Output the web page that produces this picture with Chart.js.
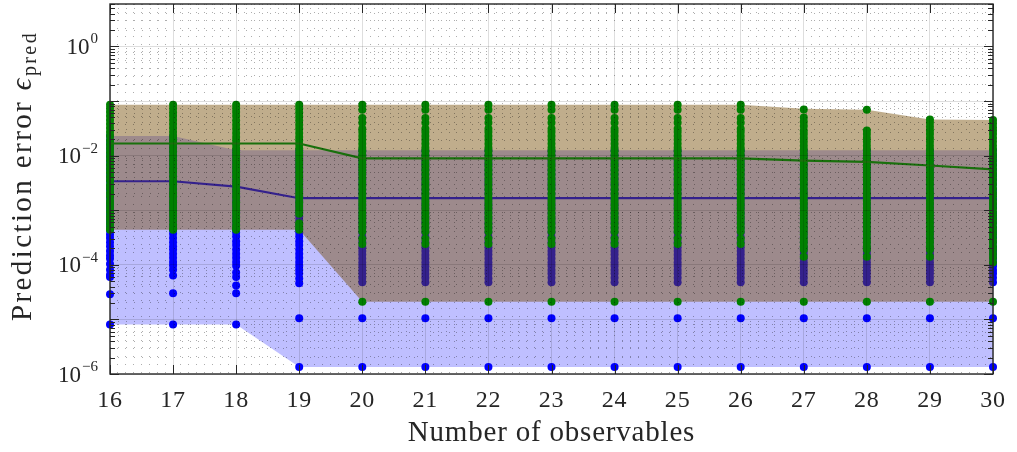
<!DOCTYPE html>
<html>
<head>
<meta charset="utf-8">
<script src="https://cdn.jsdelivr.net/npm/chart.js@4.4.1/dist/chart.umd.min.js"></script>
<style>
  html, body { margin: 0; padding: 0; background: #fff; }
</style>
</head>
<body>
<canvas id="errChart" width="1017" height="452"></canvas>
<script>
// number of observables
const nObs = [16, 17, 18, 19, 20, 21, 22, 23, 24, 25, 26, 27, 28, 29, 30];

// blue series: min / max envelope and median
const blueLow  = [8.1e-6, 8.1e-6, 8.1e-6, 1.35e-6, 1.35e-6, 1.35e-6, 1.35e-6, 1.35e-6, 1.35e-6, 1.35e-6, 1.35e-6, 1.35e-6, 1.35e-6, 1.35e-6, 1.35e-6];
const blueHigh = [0.023, 0.023, 0.0125, 0.0125, 0.0125, 0.0125, 0.0125, 0.0125, 0.0125, 0.0125, 0.0125, 0.0125, 0.0125, 0.0125, 0.0125];
const blueMed  = [0.0034, 0.0034, 0.0027, 0.00166, 0.00166, 0.00166, 0.00166, 0.00166, 0.00166, 0.00166, 0.00166, 0.00166, 0.00166, 0.00166, 0.00166];

// green series: min / max envelope and median
const greenLow  = [4.4e-4, 4.4e-4, 4.4e-4, 4.4e-4, 2.1e-5, 2.1e-5, 2.1e-5, 2.1e-5, 2.1e-5, 2.1e-5, 2.1e-5, 2.1e-5, 2.1e-5, 2.1e-5, 2.1e-5];
const greenHigh = [0.086, 0.086, 0.086, 0.086, 0.086, 0.086, 0.086, 0.086, 0.086, 0.086, 0.086, 0.072, 0.069, 0.046, 0.045];
const greenMed  = [0.0167, 0.0167, 0.0167, 0.0167, 0.0089, 0.0089, 0.0089, 0.0089, 0.0089, 0.0089, 0.0089, 0.0081, 0.0077, 0.0066, 0.0056];

// individual runs, one list per number of observables
const blueRuns = [
  [0.023, 0.019, 0.016, 0.0135, 0.0112, 0.0094, 0.0079, 0.0066, 0.0056, 0.0047, 0.004, 0.0034, 0.0028, 0.0024, 0.002, 0.0017, 0.0014, 0.0012, 0.001, 0.00085, 0.00072, 0.00061, 0.00051, 0.00043, 0.00036, 0.00031, 0.00026, 0.00022, 0.00018, 0.00015, 0.00013, 0.000104, 0.000081, 0.000066, 0.00006, 0.000029, 0.0000081],
  [0.023, 0.02, 0.017, 0.014, 0.0118, 0.0098, 0.0082, 0.0069, 0.0058, 0.0049, 0.0041, 0.0034, 0.0029, 0.0024, 0.002, 0.0017, 0.0014, 0.0012, 0.001, 0.00086, 0.00073, 0.00062, 0.00052, 0.00044, 0.00037, 0.00031, 0.00026, 0.00022, 0.00019, 0.00016, 0.000135, 0.000113, 0.000097, 0.000081, 0.000064, 0.00003, 0.0000081],
  [0.0125, 0.0105, 0.0088, 0.0074, 0.0062, 0.0052, 0.0044, 0.0037, 0.0031, 0.0026, 0.0022, 0.0018, 0.0015, 0.0013, 0.0011, 0.00092, 0.00077, 0.00065, 0.00055, 0.00046, 0.00039, 0.00033, 0.00027, 0.00023, 0.00019, 0.00016, 0.000135, 0.000113, 0.000096, 0.000072, 0.00006, 0.000042, 0.00003, 0.0000081],
  [0.0125, 0.0105, 0.0088, 0.0074, 0.0062, 0.0052, 0.0044, 0.0037, 0.0031, 0.0026, 0.0022, 0.0018, 0.0015, 0.0013, 0.0011, 0.00092, 0.00077, 0.00065, 0.00055, 0.00046, 0.00039, 0.00033, 0.00027, 0.00023, 0.00019, 0.00016, 0.000135, 0.000113, 0.000096, 0.000081, 0.000069, 0.000056, 0.000046, 0.0000105, 0.00000135],
  [0.0125, 0.0102, 0.0083, 0.0068, 0.0055, 0.0045, 0.0037, 0.003, 0.0024, 0.002, 0.0016, 0.0013, 0.0011, 0.00088, 0.00072, 0.00059, 0.00048, 0.00039, 0.00032, 0.00026, 0.00021, 0.00018, 0.000155, 0.00013, 0.00011, 0.000095, 0.00008, 0.000069, 0.000058, 0.000048, 0.0000105, 0.00000135],
  [0.0124, 0.0101, 0.0083, 0.0068, 0.0056, 0.0045, 0.0037, 0.003, 0.0024, 0.002, 0.0016, 0.0013, 0.0011, 0.00088, 0.00072, 0.00059, 0.00048, 0.00039, 0.00032, 0.00026, 0.00021, 0.00018, 0.000152, 0.00013, 0.00011, 0.000094, 0.00008, 0.000068, 0.000058, 0.000048, 0.0000105, 0.00000135],
  [0.0125, 0.0102, 0.0084, 0.0069, 0.0055, 0.0045, 0.0036, 0.003, 0.0024, 0.002, 0.0016, 0.0013, 0.0011, 0.00089, 0.00072, 0.00058, 0.00048, 0.00039, 0.00032, 0.00026, 0.00021, 0.00018, 0.000155, 0.00013, 0.00011, 0.000095, 0.00008, 0.000069, 0.000057, 0.000048, 0.0000105, 0.00000135],
  [0.0123, 0.0102, 0.0083, 0.0068, 0.0055, 0.0045, 0.0037, 0.003, 0.0025, 0.002, 0.0016, 0.0013, 0.0011, 0.00088, 0.00071, 0.00059, 0.00048, 0.00039, 0.00032, 0.00026, 0.00021, 0.00018, 0.000155, 0.00013, 0.00011, 0.000095, 0.00008, 0.000069, 0.000058, 0.000048, 0.0000105, 0.00000135],
  [0.0125, 0.0102, 0.0083, 0.0068, 0.0055, 0.0045, 0.0037, 0.003, 0.0024, 0.002, 0.0016, 0.0013, 0.0011, 0.00088, 0.00072, 0.00059, 0.00048, 0.00039, 0.00032, 0.00026, 0.00021, 0.00018, 0.000155, 0.00013, 0.00011, 0.000095, 0.00008, 0.000069, 0.000058, 0.000048, 0.0000105, 0.00000135],
  [0.0124, 0.0102, 0.0083, 0.0068, 0.0055, 0.0045, 0.0037, 0.003, 0.0024, 0.002, 0.0016, 0.0013, 0.0011, 0.00088, 0.00072, 0.00059, 0.00048, 0.00039, 0.00032, 0.00026, 0.00021, 0.00018, 0.000153, 0.00013, 0.00011, 0.000095, 0.00008, 0.000069, 0.000058, 0.000048, 0.0000105, 0.00000135],
  [0.0125, 0.0102, 0.0083, 0.0068, 0.0055, 0.0045, 0.0037, 0.003, 0.0024, 0.002, 0.0016, 0.0013, 0.0011, 0.00088, 0.00072, 0.00059, 0.00048, 0.00039, 0.00032, 0.00026, 0.00021, 0.00018, 0.000155, 0.00013, 0.00011, 0.000095, 0.00008, 0.000069, 0.000058, 0.000048, 0.0000105, 0.00000135],
  [0.0124, 0.0102, 0.0083, 0.0068, 0.0055, 0.0045, 0.0037, 0.003, 0.0024, 0.002, 0.0016, 0.0013, 0.0011, 0.00088, 0.00072, 0.00059, 0.00048, 0.00039, 0.00032, 0.00026, 0.00021, 0.00018, 0.000155, 0.00013, 0.00011, 0.000095, 0.00008, 0.000069, 0.000058, 0.000048, 0.0000105, 0.00000135],
  [0.0125, 0.0102, 0.0083, 0.0068, 0.0055, 0.0045, 0.0037, 0.003, 0.0024, 0.002, 0.0016, 0.0013, 0.0011, 0.00088, 0.00072, 0.00059, 0.00048, 0.00039, 0.00032, 0.00026, 0.00021, 0.00018, 0.000155, 0.00013, 0.00011, 0.000095, 0.00008, 0.000069, 0.000058, 0.000048, 0.0000105, 0.00000135],
  [0.0124, 0.0102, 0.0083, 0.0068, 0.0055, 0.0045, 0.0037, 0.003, 0.0024, 0.002, 0.0016, 0.0013, 0.0011, 0.00088, 0.00072, 0.00059, 0.00048, 0.00039, 0.00032, 0.00026, 0.00021, 0.00018, 0.000155, 0.00013, 0.00011, 0.000095, 0.00008, 0.000069, 0.000058, 0.000048, 0.0000105, 0.00000135],
  [0.0125, 0.0102, 0.0083, 0.0068, 0.0055, 0.0045, 0.0037, 0.003, 0.0024, 0.002, 0.0016, 0.0013, 0.0011, 0.00088, 0.00072, 0.00059, 0.00048, 0.00039, 0.00032, 0.00026, 0.00021, 0.00018, 0.000155, 0.00013, 0.00011, 0.000095, 0.00008, 0.000069, 0.000058, 0.000048, 0.0000105, 0.00000135]
];

const greenRuns = [
  [0.086, 0.074, 0.063, 0.053, 0.045, 0.038, 0.032, 0.027, 0.023, 0.019, 0.016, 0.0135, 0.0115, 0.0097, 0.0082, 0.0069, 0.0058, 0.0049, 0.0041, 0.0035, 0.0029, 0.0025, 0.0021, 0.0018, 0.0015, 0.0013, 0.0011, 0.00093, 0.00078, 0.00066, 0.00056, 0.00047, 0.00044],
  [0.086, 0.073, 0.062, 0.053, 0.045, 0.038, 0.032, 0.027, 0.023, 0.0195, 0.0165, 0.014, 0.0118, 0.0099, 0.0083, 0.007, 0.0059, 0.005, 0.0042, 0.0035, 0.003, 0.0025, 0.0021, 0.0018, 0.0015, 0.0013, 0.0011, 0.00093, 0.00079, 0.00066, 0.00055, 0.00047, 0.00044],
  [0.086, 0.074, 0.063, 0.053, 0.044, 0.037, 0.031, 0.026, 0.022, 0.019, 0.016, 0.0135, 0.0114, 0.0096, 0.0081, 0.0068, 0.0058, 0.0049, 0.0041, 0.0034, 0.0029, 0.0024, 0.002, 0.0017, 0.0014, 0.0012, 0.001, 0.00086, 0.00073, 0.00062, 0.00052, 0.00046, 0.00044],
  [0.086, 0.073, 0.062, 0.052, 0.044, 0.037, 0.031, 0.026, 0.022, 0.019, 0.016, 0.0135, 0.0114, 0.0096, 0.0081, 0.0068, 0.0058, 0.0049, 0.0041, 0.0034, 0.0029, 0.0024, 0.002, 0.0017, 0.0014, 0.0012, 0.001, 0.00086, 0.00058, 0.0005, 0.00044],
  [0.086, 0.069, 0.049, 0.04, 0.031, 0.027, 0.023, 0.0195, 0.0165, 0.014, 0.012, 0.0102, 0.0087, 0.0074, 0.0063, 0.0054, 0.0046, 0.0039, 0.0033, 0.0028, 0.0024, 0.002, 0.0017, 0.00145, 0.00123, 0.00105, 0.0009, 0.00077, 0.00066, 0.00056, 0.00048, 0.00041, 0.0003, 0.00024, 0.000021],
  [0.086, 0.069, 0.049, 0.04, 0.031, 0.027, 0.023, 0.0195, 0.0165, 0.014, 0.012, 0.0102, 0.0087, 0.0074, 0.0063, 0.0054, 0.0046, 0.0039, 0.0033, 0.0028, 0.0024, 0.002, 0.0017, 0.00145, 0.00123, 0.00105, 0.0009, 0.00077, 0.00066, 0.00056, 0.00048, 0.00041, 0.0003, 0.00024, 0.000021],
  [0.086, 0.069, 0.049, 0.04, 0.031, 0.027, 0.023, 0.0195, 0.0165, 0.014, 0.012, 0.0102, 0.0087, 0.0074, 0.0063, 0.0054, 0.0046, 0.0039, 0.0033, 0.0028, 0.0024, 0.002, 0.0017, 0.00145, 0.00123, 0.00105, 0.0009, 0.00077, 0.00066, 0.00056, 0.00048, 0.00041, 0.0003, 0.00024, 0.000021],
  [0.086, 0.069, 0.049, 0.04, 0.031, 0.027, 0.023, 0.0195, 0.0165, 0.014, 0.012, 0.0102, 0.0087, 0.0074, 0.0063, 0.0054, 0.0046, 0.0039, 0.0033, 0.0028, 0.0024, 0.002, 0.0017, 0.00145, 0.00123, 0.00105, 0.0009, 0.00077, 0.00066, 0.00056, 0.00048, 0.00041, 0.0003, 0.00024, 0.000021],
  [0.086, 0.069, 0.049, 0.04, 0.031, 0.027, 0.023, 0.0195, 0.0165, 0.014, 0.012, 0.0102, 0.0087, 0.0074, 0.0063, 0.0054, 0.0046, 0.0039, 0.0033, 0.0028, 0.0024, 0.002, 0.0017, 0.00145, 0.00123, 0.00105, 0.0009, 0.00077, 0.00066, 0.00056, 0.00048, 0.00041, 0.0003, 0.00024, 0.000021],
  [0.086, 0.069, 0.049, 0.04, 0.031, 0.027, 0.023, 0.0195, 0.0165, 0.014, 0.012, 0.0102, 0.0087, 0.0074, 0.0063, 0.0054, 0.0046, 0.0039, 0.0033, 0.0028, 0.0024, 0.002, 0.0017, 0.00145, 0.00123, 0.00105, 0.0009, 0.00077, 0.00066, 0.00056, 0.00048, 0.00041, 0.0003, 0.00024, 0.000021],
  [0.086, 0.069, 0.049, 0.04, 0.031, 0.027, 0.023, 0.0195, 0.0165, 0.014, 0.012, 0.0102, 0.0087, 0.0074, 0.0063, 0.0054, 0.0046, 0.0039, 0.0033, 0.0028, 0.0024, 0.002, 0.0017, 0.00145, 0.00123, 0.00105, 0.0009, 0.00077, 0.00066, 0.00056, 0.00048, 0.00041, 0.0003, 0.00024, 0.000021],
  [0.07, 0.05, 0.042, 0.035, 0.029, 0.025, 0.021, 0.018, 0.0152, 0.0129, 0.011, 0.0093, 0.0079, 0.0067, 0.0057, 0.0048, 0.0041, 0.0035, 0.003, 0.0025, 0.0021, 0.0018, 0.0015, 0.0013, 0.0011, 0.00094, 0.0008, 0.00068, 0.00058, 0.00049, 0.00042, 0.00036, 0.0003, 0.00026, 0.00022, 0.00019, 0.00014, 0.000021],
  [0.069, 0.029, 0.025, 0.021, 0.018, 0.0152, 0.0129, 0.011, 0.0093, 0.0079, 0.0067, 0.0057, 0.0048, 0.0041, 0.0035, 0.003, 0.0025, 0.0021, 0.0018, 0.0015, 0.0013, 0.0011, 0.00094, 0.0008, 0.00068, 0.00058, 0.00049, 0.00042, 0.00036, 0.0003, 0.00026, 0.00022, 0.00019, 0.00014, 0.000021],
  [0.046, 0.04, 0.034, 0.029, 0.025, 0.021, 0.018, 0.0152, 0.0129, 0.011, 0.0093, 0.0079, 0.0067, 0.0057, 0.0048, 0.0041, 0.0035, 0.003, 0.0025, 0.0021, 0.0018, 0.0015, 0.0013, 0.0011, 0.00094, 0.0008, 0.00068, 0.00058, 0.00049, 0.00042, 0.00036, 0.0003, 0.00026, 0.00022, 0.00019, 0.00014, 0.000021],
  [0.045, 0.039, 0.033, 0.029, 0.025, 0.021, 0.018, 0.0152, 0.0129, 0.011, 0.0093, 0.0079, 0.0067, 0.0057, 0.0048, 0.0041, 0.0035, 0.003, 0.0025, 0.0021, 0.0018, 0.0015, 0.0013, 0.0011, 0.00094, 0.0008, 0.00068, 0.00058, 0.00049, 0.00042, 0.00036, 0.0003, 0.00026, 0.00022, 0.00019, 0.00016, 0.000135, 0.00011, 0.000021]
];

// decade labels on the y axis (powers of ten)
const yLabelExp = [0, -2, -4, -6];

const serif = "'Liberation Serif', 'DejaVu Serif', serif";
const axisColor = '#262626';

function pairs(ys) {
    return nObs.map((x, i) => ({x: x, y: ys[i]}));
}
function runPoints(runs) {
    const pts = [];
    runs.forEach((col, i) => col.forEach(v => pts.push({x: nObs[i], y: v})));
    return pts;
}
function isDecade(v) {
    const l = Math.log10(v);
    return Math.abs(l - Math.round(l)) < 1e-9;
}

// grid/tick values for the log axis: 1..9 x 10^n
const yGrid = [];
for (let e = -6; e <= 0; e++) {
    for (let m = 1; m <= 9; m++) {
        const v = m * Math.pow(10, e);
        if (v <= 6) yGrid.push(Number(v.toPrecision(3)));
    }
}

const hidden = 'rgba(0,0,0,0)';

const spacing = {
    id: 'spacing',
    beforeDraw(chart) { chart.ctx.letterSpacing = '0.8px'; }
};

const boxPlugin = {
    id: 'boxPlugin',
    afterDraw(chart) {
        const {ctx, chartArea: a, scales: {x, y}} = chart;
        ctx.save();
        ctx.letterSpacing = '0px';
        ctx.strokeStyle = axisColor;
        ctx.lineWidth = 1;
        ctx.beginPath();
        nObs.forEach(v => {
            const px = Math.round(x.getPixelForValue(v)) + 0.5;
            ctx.moveTo(px, a.bottom); ctx.lineTo(px, a.bottom - 9);
            ctx.moveTo(px, a.top); ctx.lineTo(px, a.top + 9);
        });
        yGrid.forEach(v => {
            const py = Math.round(y.getPixelForValue(v)) + 0.5;
            const len = isDecade(v) ? 9 : 5;
            ctx.moveTo(a.left, py); ctx.lineTo(a.left + len, py);
            ctx.moveTo(a.right, py); ctx.lineTo(a.right - len, py);
        });
        ctx.stroke();
        ctx.lineWidth = 1.4;
        ctx.strokeRect(a.left, a.top, a.right - a.left, a.bottom - a.top);

        // y tick labels 10^n
        ctx.fillStyle = axisColor;
        ctx.textBaseline = 'alphabetic';
        yLabelExp.forEach(e => {
            const py = y.getPixelForValue(Math.pow(10, e));
            const expTxt = e < 0 ? '\u2212' + (-e) : String(e);
            ctx.font = '15px ' + serif;
            const ew = ctx.measureText(expTxt).width;
            ctx.font = '23px ' + serif;
            const bw = ctx.measureText('10').width;
            const right = a.left - 12;
            ctx.textAlign = 'left';
            ctx.fillText('10', right - ew - bw - 1, py + 7.5);
            ctx.font = '15px ' + serif;
            ctx.fillText(expTxt, right - ew, py - 3);
        });

        // y axis title
        ctx.letterSpacing = '2.4px';
        const main = 'Prediction error ';
        ctx.font = '29px ' + serif;
        const w1 = ctx.measureText(main).width;
        ctx.font = 'italic 29px ' + serif;
        const w2 = ctx.measureText('\u03F5').width;
        ctx.font = '20px ' + serif;
        const w3 = ctx.measureText('pred').width;
        const total = w1 + w2 + w3;
        ctx.translate(31, 176 + total / 2);
        ctx.rotate(-Math.PI / 2);
        ctx.textAlign = 'left';
        ctx.font = '29px ' + serif;
        ctx.fillText(main, 0, 0);
        ctx.font = 'italic 29px ' + serif;
        ctx.fillText('\u03F5', w1, 0);
        ctx.font = '20px ' + serif;
        ctx.fillText('pred', w1 + w2, 5);
        ctx.restore();
    }
};

new Chart(document.getElementById('errChart').getContext('2d'), {
    type: 'line',
    data: {
        datasets: [{
            data: pairs(blueLow),
            borderColor: hidden, pointRadius: 0, fill: false, order: 60
        }, {
            data: pairs(blueHigh),
            borderColor: hidden, pointRadius: 0,
            fill: '-1', backgroundColor: 'rgba(0,0,255,0.25)', order: 59
        }, {
            data: runPoints(blueRuns),
            showLine: false, pointRadius: 4, pointBorderWidth: 0,
            pointBackgroundColor: 'rgb(0,0,255)', clip: false, order: 50
        }, {
            data: pairs(blueMed),
            borderColor: 'rgb(0,0,255)', borderWidth: 2.2, pointRadius: 0, order: 40
        }, {
            data: pairs(greenLow),
            borderColor: hidden, pointRadius: 0, fill: false, order: 35
        }, {
            data: pairs(greenHigh),
            borderColor: hidden, pointRadius: 0,
            fill: '-1', backgroundColor: 'rgba(115,73,0,0.45)', order: 30
        }, {
            data: runPoints(greenRuns),
            showLine: false, pointRadius: 4, pointBorderWidth: 0,
            pointBackgroundColor: 'rgb(0,128,0)', clip: false, order: 20
        }, {
            data: pairs(greenMed),
            borderColor: 'rgb(25,112,12)', borderWidth: 2.2, pointRadius: 0, order: 10
        }]
    },
    options: {
        responsive: false,
        animation: false,
        events: [],
        layout: { padding: { top: 1, right: 16, left: 0, bottom: 0 } },
        plugins: { legend: { display: false }, tooltip: { enabled: false } },
        elements: { line: { tension: 0 } },
        scales: {
            x: {
                type: 'linear',
                min: 16,
                max: 30,
                afterFit: scale => { scale.height = 78; },
                ticks: {
                    stepSize: 0.125,
                    autoSkip: false,
                    maxRotation: 0,
                    padding: 12,
                    color: axisColor,
                    font: { family: serif, size: 24 },
                    callback: v => Number.isInteger(v) ? String(v) : ''
                },
                grid: {
                    z: 1,
                    drawTicks: false,
                    lineWidth: 1,
                    color: c => Number.isInteger(c.tick.value) ? 'rgba(0,0,0,0.13)' : 'rgba(0,0,0,0.32)'
                },
                border: {
                    display: false,
                    dash: c => (c.tick && !Number.isInteger(c.tick.value)) ? [1, 7] : []
                },
                title: {
                    display: true,
                    text: 'Number of observables',
                    color: axisColor,
                    font: { family: serif, size: 29, lineHeight: 1.2 },
                    padding: { top: 0, bottom: 1 }
                }
            },
            y: {
                type: 'logarithmic',
                min: 1e-6,
                max: 6,
                afterBuildTicks: scale => { scale.ticks = yGrid.map(v => ({value: v, major: isDecade(v)})); },
                afterFit: scale => { scale.width = 110; },
                ticks: { display: false },
                grid: {
                    z: 1,
                    drawTicks: false,
                    lineWidth: 1,
                    color: c => isDecade(c.tick.value) ? 'rgba(0,0,0,0.13)' : 'rgba(0,0,0,0.32)'
                },
                border: {
                    display: false,
                    dash: c => (c.tick && !isDecade(c.tick.value)) ? [1, 7] : []
                }
            }
        }
    },
    plugins: [spacing, boxPlugin]
});
</script>
</body>
</html>
